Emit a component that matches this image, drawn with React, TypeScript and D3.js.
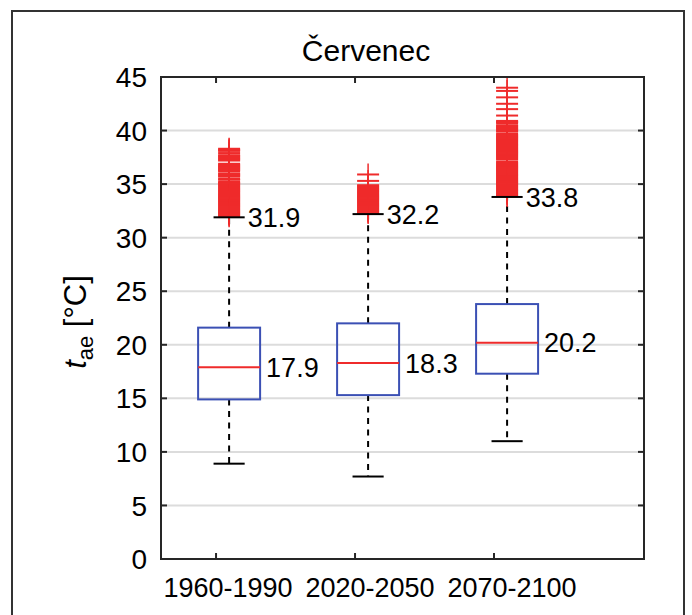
import React from "react";
import * as d3 from "d3";

const title = "Červenec";
const categories = ["1960-1990", "2020-2050", "2070-2100"];
const medians = [17.9, 18.3, 20.2];
const q1 = [14.9, 15.3, 17.3];
const q3 = [21.6, 22.0, 23.8];
const lowerWhisker = [8.9, 7.7, 11.0];
const upperWhisker = [31.9, 32.2, 33.8];
const medianLabels = ["17.9", "18.3", "20.2"];
const upperLabels = ["31.9", "32.2", "33.8"];
const yTicks = [0, 5, 10, 15, 20, 25, 30, 35, 40, 45];

const outliers1 = [
  32.0, 32.1, 32.2, 32.3, 32.4, 32.5, 32.6, 32.7, 32.8, 32.9, 33.0, 33.1, 33.2, 33.3, 33.4,
  33.5, 33.6, 33.7, 33.8, 33.9, 34.0, 34.1, 34.2, 34.3, 34.4, 34.5, 34.6, 34.7, 34.8, 34.9,
  35.0, 35.1, 35.2, 35.4, 35.5, 35.7, 35.8, 35.9, 36.0, 36.2, 36.3, 36.4, 36.5, 36.6, 36.7,
  36.8, 36.9, 37.2, 37.3, 37.4, 37.5, 37.6, 37.7, 37.9, 38.1, 38.2, 38.3,
];
const outliers2 = [
  32.3, 32.4, 32.5, 32.6, 32.7, 32.8, 32.9, 33.0, 33.1, 33.2, 33.3, 33.4, 33.5, 33.6, 33.7,
  33.8, 33.9, 34.0, 34.1, 34.2, 34.3, 34.4, 34.5, 34.6, 34.7, 34.8, 34.9, 35.3, 35.9,
];
const outliers3 = [
  33.9, 34.0, 34.1, 34.2, 34.3, 34.4, 34.5, 34.6, 34.7, 34.8, 34.9, 35.0, 35.1, 35.2, 35.3,
  35.4, 35.5, 35.6, 35.7, 35.8, 35.9, 36.0, 36.1, 36.2, 36.3, 36.4, 36.5, 36.6, 36.7, 36.8,
  36.9, 37.0, 37.1, 37.3, 37.4, 37.5, 37.6, 37.7, 37.8, 37.9, 38.0, 38.1, 38.2, 38.3, 38.4,
  38.5, 38.6, 38.7, 38.8, 38.9, 39.0, 39.1, 39.2, 39.3, 39.4, 39.5, 39.6, 39.7, 39.9, 40.0,
  40.1, 40.2, 40.3, 40.4, 40.5, 40.7, 40.8, 40.9, 41.4, 42.0, 42.5, 43.1, 43.7, 44.0,
];
const outlierSets = [outliers1, outliers2, outliers3];

const W = 692;
const H = 615;
const plot = { left: 161, right: 644, top: 77, bottom: 559 };
const BOX_SHIFT = 0.094;
const BOX_HALF = 0.223;
const CAP_HALF = 0.112;
const MARK = 11;
const FONT = "Arial, 'Liberation Sans', Helvetica, sans-serif";
const RED = "#ef2b2b";
const BLUE = "#3b50b4";

export default function App() {
  const x = d3.scaleLinear().domain([0.604, 4.079]).range([plot.left, plot.right]);
  const y = d3.scaleLinear().domain([0, 45]).range([plot.bottom, plot.top]);
  const tickLen = 6;

  return (
    <svg
      width={W}
      height={H}
      viewBox={`0 0 ${W} ${H}`}
      style={{ position: "absolute", left: 0, top: 0, background: "#fff" }}
      fontFamily={FONT}
    >
      <rect x={0} y={0} width={W} height={H} fill="#fff" />
      {/* outer frame */}
      <rect x={12} y={11} width={672} height={640} fill="none" stroke="#333" strokeWidth={2} />

      {/* title */}
      <text x={366} y={61} textAnchor="middle" fontSize={30} fill="#000">
        {title}
      </text>

      {/* grid */}
      {yTicks.map((t) => (
        <line key={"g" + t} x1={plot.left} x2={plot.right} y1={y(t)} y2={y(t)} stroke="#dcdcdc" strokeWidth={2} />
      ))}

      {/* boxes */}
      {categories.map((c, i) => {
        const cx = x(i + 1 + BOX_SHIFT);
        const bl = x(i + 1 + BOX_SHIFT - BOX_HALF);
        const br = x(i + 1 + BOX_SHIFT + BOX_HALF);
        const cl = x(i + 1 + BOX_SHIFT - CAP_HALF);
        const cr = x(i + 1 + BOX_SHIFT + CAP_HALF);
        return (
          <g key={c}>
            <line x1={cx} x2={cx} y1={y(q3[i])} y2={y(upperWhisker[i])} stroke="#000" strokeWidth={2} strokeDasharray="6,5.5" />
            <line x1={cx} x2={cx} y1={y(q1[i])} y2={y(lowerWhisker[i])} stroke="#000" strokeWidth={2} strokeDasharray="6,5.5" />
            {outlierSets[i].map((v, k) => (
              <g key={k}>
                <line x1={cx - MARK} x2={cx + MARK} y1={y(v)} y2={y(v)} stroke={RED} strokeWidth={2} />
                <line x1={cx} x2={cx} y1={y(v) - MARK} y2={y(v) + MARK} stroke={RED} strokeWidth={1.5} />
              </g>
            ))}
            <line x1={cl} x2={cr} y1={y(upperWhisker[i])} y2={y(upperWhisker[i])} stroke="#000" strokeWidth={2} />
            <line x1={cl} x2={cr} y1={y(lowerWhisker[i])} y2={y(lowerWhisker[i])} stroke="#000" strokeWidth={2} />
            <rect x={bl} y={y(q3[i])} width={br - bl} height={y(q1[i]) - y(q3[i])} fill="none" stroke={BLUE} strokeWidth={2} />
            <line x1={bl} x2={br} y1={y(medians[i])} y2={y(medians[i])} stroke={RED} strokeWidth={2} />
            <text x={br + 6} y={y(medians[i])} dy="0.36em" fontSize={27} fill="#000">
              {medianLabels[i]}
            </text>
            <text x={cr + 3} y={y(upperWhisker[i])} dy="0.36em" fontSize={27} fill="#000">
              {upperLabels[i]}
            </text>
          </g>
        );
      })}

      {/* axes box */}
      <rect x={plot.left} y={plot.top} width={plot.right - plot.left} height={plot.bottom - plot.top} fill="none" stroke="#262626" strokeWidth={2} />
      {yTicks.map((t) => (
        <g key={"t" + t}>
          <line x1={plot.left} x2={plot.left + tickLen} y1={y(t)} y2={y(t)} stroke="#262626" strokeWidth={2} />
          <line x1={plot.right} x2={plot.right - tickLen} y1={y(t)} y2={y(t)} stroke="#262626" strokeWidth={2} />
          <text x={plot.left - 14} y={y(t)} dy="0.36em" textAnchor="end" fontSize={28} fill="#000">
            {t}
          </text>
        </g>
      ))}
      {categories.map((c, i) => (
        <g key={"x" + c}>
          <line x1={x(i + 1)} x2={x(i + 1)} y1={plot.bottom} y2={plot.bottom - tickLen} stroke="#262626" strokeWidth={2} />
          <line x1={x(i + 1)} x2={x(i + 1)} y1={plot.top} y2={plot.top + tickLen} stroke="#262626" strokeWidth={2} />
          <text x={x(i + 1) + 12 + i * 3} y={597} textAnchor="middle" fontSize={27} fill="#000">
            {c}
          </text>
        </g>
      ))}

      {/* y label */}
      <text transform={`translate(86,322) rotate(-90)`} textAnchor="middle" fontSize={31} fill="#000">
        <tspan fontStyle="italic">t</tspan>
        <tspan fontSize={22} dy={7}>ae</tspan>
        <tspan dy={-7}>{" [°C]"}</tspan>
      </text>
    </svg>
  );
}
